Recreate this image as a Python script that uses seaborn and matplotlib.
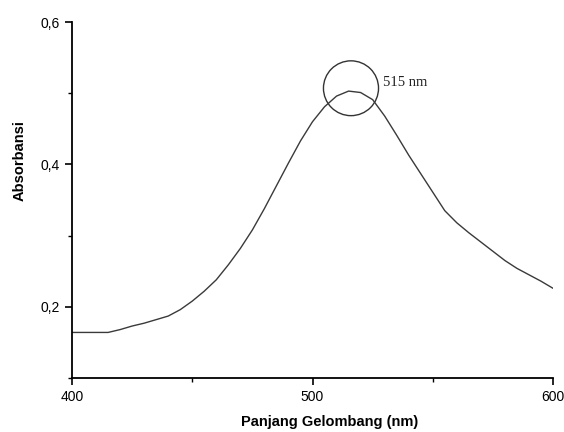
import matplotlib
matplotlib.use("Agg")
import matplotlib.pyplot as plt
from matplotlib.patches import Ellipse
from matplotlib.ticker import MultipleLocator
import seaborn as sns
import pandas as pd

wavelength = [400, 405, 410, 415, 420, 425, 430, 435, 440, 445, 450, 455, 460, 465,
              470, 475, 480, 485, 490, 495, 500, 505, 510, 515, 520, 525, 530, 535,
              540, 545, 550, 555, 560, 565, 570, 575, 580, 585, 590, 595, 600]
absorbance = [0.164, 0.164, 0.164, 0.164, 0.168, 0.173, 0.177, 0.182, 0.187, 0.196,
              0.208, 0.222, 0.238, 0.259, 0.282, 0.308, 0.338, 0.370, 0.402, 0.433,
              0.460, 0.481, 0.496, 0.503, 0.501, 0.491, 0.468, 0.441, 0.413, 0.387,
              0.361, 0.335, 0.318, 0.304, 0.291, 0.278, 0.265, 0.254, 0.245, 0.236,
              0.226]
x_ticks = [400, 500, 600]
x_ticklabels = ["400", "500", "600"]
y_ticks = [0.2, 0.4, 0.6]
y_ticklabels = ["0,2", "0,4", "0,6"]
peak_label = "515 nm"
peak_x = 516
peak_y = 0.507

sns.set_style("ticks")
plt.rcParams['font.family'] = ['Liberation Sans', 'DejaVu Sans']
plt.rcParams['axes.labelcolor'] = 'black'
plt.rcParams['text.color'] = 'black'

df = pd.DataFrame({"wl": wavelength, "abs": absorbance})

fig = plt.figure(figsize=(5.64, 4.32), dpi=100)
ax = fig.add_axes([0.1277, 0.125, 0.8528, 0.824])
sns.lineplot(data=df, x="wl", y="abs", ax=ax, color="#3a3a3a", linewidth=1.0)

ax.set_xlim(400, 600)
ax.set_ylim(0.1, 0.6)
ax.set_xticks(x_ticks)
ax.set_xticklabels(x_ticklabels)
ax.set_yticks(y_ticks)
ax.set_yticklabels(y_ticklabels)
ax.xaxis.set_minor_locator(MultipleLocator(50))
ax.yaxis.set_minor_locator(MultipleLocator(0.1))
ax.tick_params(axis='both', which='major', length=5, width=1.2, labelsize=10, color='black', labelcolor='black')
ax.tick_params(axis='both', which='minor', length=3, width=1.0, color='black')
for s in ['top', 'right']:
    ax.spines[s].set_visible(False)
for s in ['left', 'bottom']:
    ax.spines[s].set_linewidth(1.3)
    ax.spines[s].set_color('black')

ax.set_xlabel("Panjang Gelombang (nm)", fontsize=10.5, fontweight='bold', color='black')
ax.set_ylabel("Absorbansi", fontsize=10.5, fontweight='bold', color='black')
ax.xaxis.set_label_coords(0.536, -0.104)
ax.yaxis.set_label_coords(-0.094, 0.61)

circ = Ellipse((peak_x, peak_y), width=22.9, height=0.077, fill=False,
               edgecolor='#333333', linewidth=1.0)
ax.add_patch(circ)
ax.text(529.5, 0.515, peak_label, fontsize=10.5, family=['Liberation Serif', 'DejaVu Serif'],
        va='center', ha='left', color='#222222')

fig.savefig("out.png", dpi=100)
